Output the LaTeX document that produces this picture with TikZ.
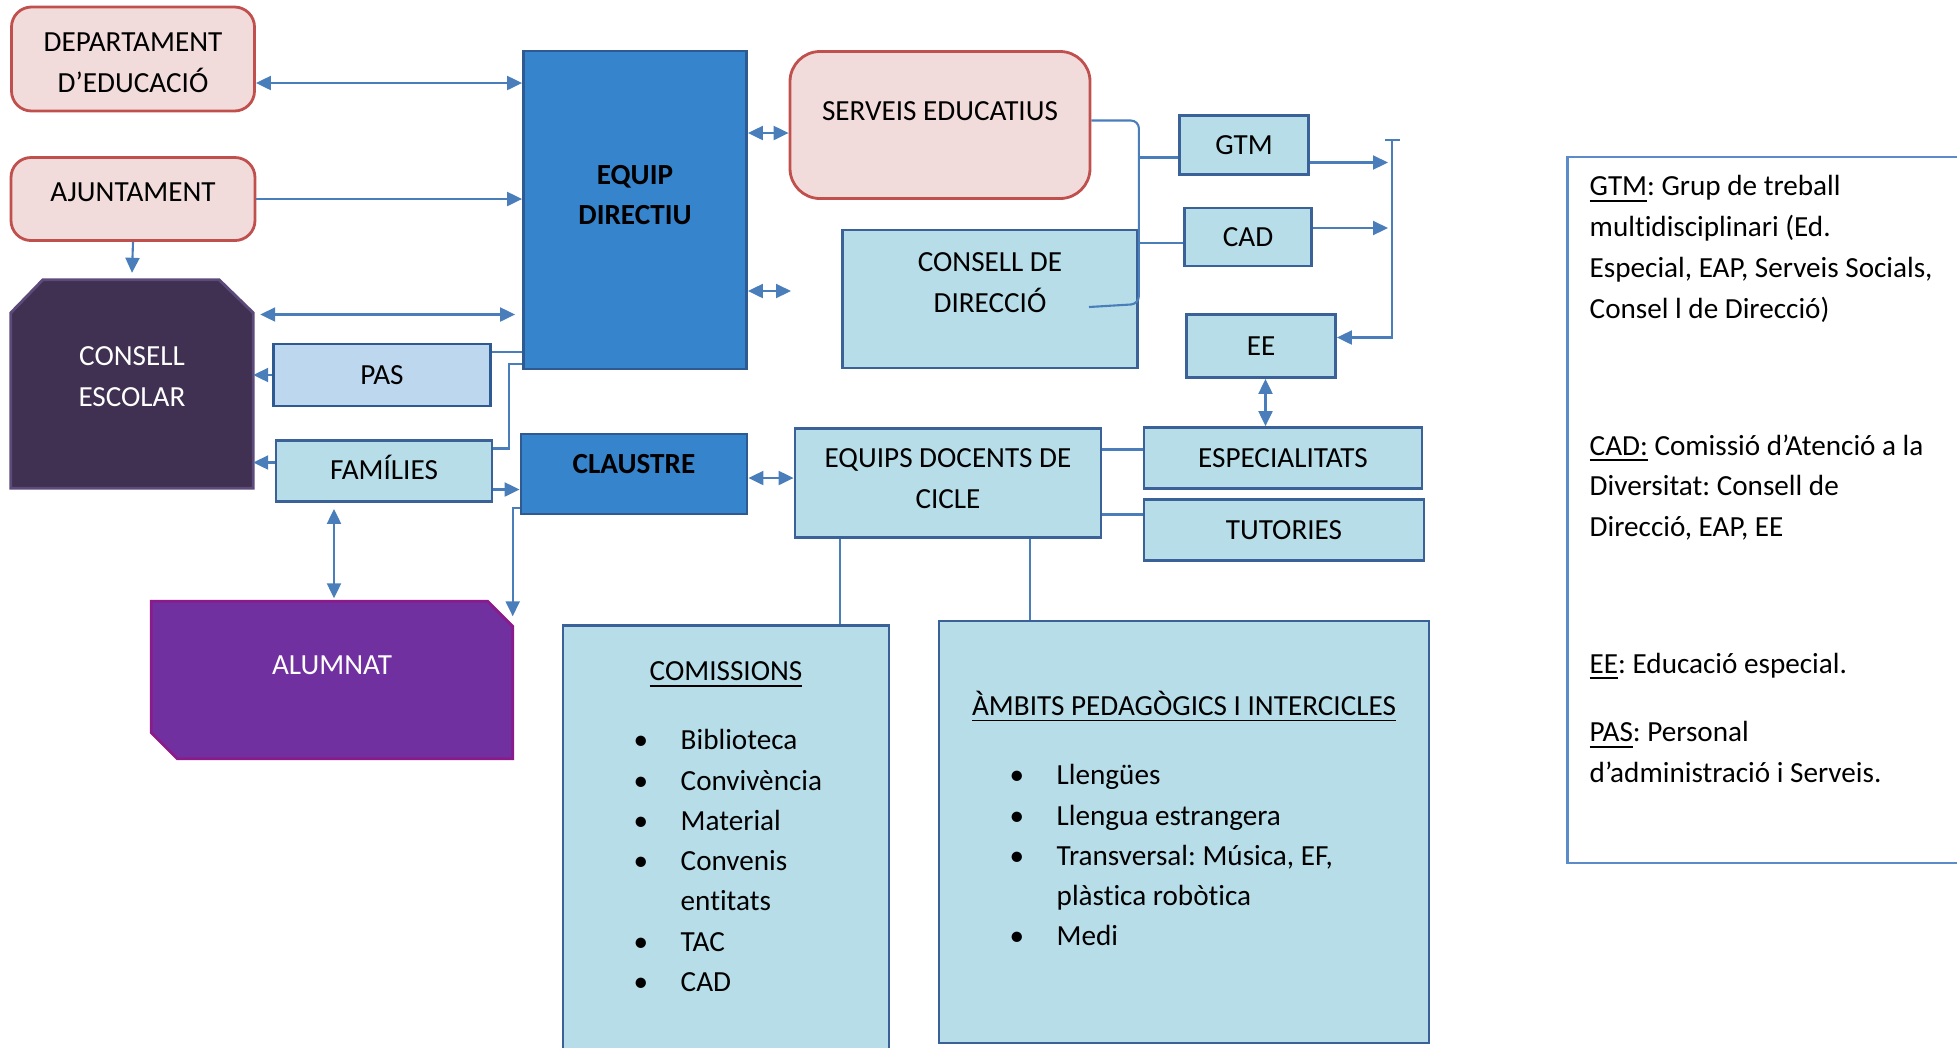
\documentclass[tikz,border=0pt]{standalone}
\usepackage{fontspec}
\setmainfont[Ligatures=NoCommon]{Carlito}
\usepackage{tikz}
\usetikzlibrary{arrows.meta}
\frenchspacing

\definecolor{pinkfill}{HTML}{F2DCDB}
\definecolor{pinkline}{HTML}{C0504D}
\definecolor{dirfill}{HTML}{3584CC}
\definecolor{dirline}{HTML}{2F5A91}
\definecolor{lightfill}{HTML}{B7DDE8}
\definecolor{lightline}{HTML}{3A6298}
\definecolor{pasfill}{HTML}{BDD7EE}
\definecolor{consfill}{HTML}{403152}
\definecolor{consline}{HTML}{5C4A7A}
\definecolor{alumfill}{HTML}{7030A0}
\definecolor{alumline}{HTML}{8B1A8B}
\definecolor{connline}{HTML}{4A7EBB}
\definecolor{legline}{HTML}{5B8BC9}

\newcommand{\boxfont}{\fontsize{8.3}{11.6}\selectfont}
\newcommand{\listfont}{\fontsize{8.3}{11.45}\selectfont}
\newcommand{\bulit}{\makebox[0.47cm][l]{\textbullet}}

\tikzset{
	box/.style={inner sep=0pt, line width=0.8pt, align=center, font=\boxfont},
	pinkbox/.style={box, draw=pinkline, fill=pinkfill, rounded corners=0.2cm},
	dirbox/.style={box, draw=dirline, fill=dirfill},
	lightbox/.style={box, draw=lightline, fill=lightfill},
	pasbox/.style={box, draw=dirline, fill=pasfill},
	holder/.style={inner sep=0pt},
	txt/.style={inner sep=0pt, align=center, font=\boxfont},
	boldtxt/.style={txt, font=\boxfont\bfseries},
	whitetxt/.style={txt, text=white},
	listtxt/.style={inner sep=0pt, align=left, font=\listfont},
	legtxt/.style={inner sep=0pt, align=left, font=\boxfont},
	conn/.style={draw=connline, line width=0.6pt},
	arr/.style={conn, -{Triangle[length=0.15cm, width=0.14cm]}},
	biarr/.style={conn, {Triangle[length=0.15cm, width=0.14cm]}-{Triangle[length=0.15cm, width=0.14cm]}},
}

\begin{document}
\begin{tikzpicture}
		\useasboundingbox (0,0) rectangle (19.57,-10.47);
		\node[pinkbox, minimum width=2.43cm, minimum height=1.04cm] (dept) at (1.33,-0.59) {};
		\node[txt] (depttxt) at ([yshift=-0.035cm]dept.center) {DEPARTAMENT\\D’EDUCACIÓ};
		\node[pinkbox, minimum width=2.44cm, minimum height=0.83cm] (ajunt) at (1.33,-1.99) {};
		\node[txt] (ajunttxt) at ([yshift=0.07cm]ajunt.center) {AJUNTAMENT};
		\node[holder, minimum width=2.41cm, minimum height=2.07cm] (consell) at (1.32,-3.84) {};
		\filldraw[fill=consfill, draw=consline, line width=0.8pt] ([yshift=-0.33cm]consell.north west) -- ([xshift=0.32cm]consell.north west) -- ([xshift=-0.34cm]consell.north east) -- ([yshift=-0.33cm]consell.north east) -- (consell.south east) -- (consell.south west) -- cycle;
		\node[whitetxt] (conselltxt) at ([yshift=0.07cm]consell.center) {CONSELL\\ESCOLAR};
		\node[dirbox, minimum width=2.23cm, minimum height=3.18cm] (equip) at (6.35,-2.10) {};
		\node[boldtxt] (equiptxt) at ([yshift=0.15cm]equip.center) {EQUIP\\DIRECTIU};
		\node[pasbox, minimum width=2.17cm, minimum height=0.62cm] (pas) at (3.82,-3.75) {PAS};
		\node[lightbox, minimum width=2.16cm, minimum height=0.61cm] (fam) at (3.84,-4.71) {};
		\node[txt] (famtxt) at ([yshift=0.035cm]fam.center) {FAMÍLIES};
		\node[dirbox, minimum width=2.26cm, minimum height=0.80cm] (claustre) at (6.34,-4.74) {};
		\node[boldtxt] (claustretxt) at ([yshift=0.10cm]claustre.center) {CLAUSTRE};
		\node[holder, minimum width=3.60cm, minimum height=1.56cm] (alumnat) at (3.32,-6.80) {};
		\filldraw[fill=alumfill, draw=alumline, line width=0.8pt] (alumnat.north west) -- ([xshift=-0.25cm]alumnat.north east) -- ([yshift=-0.25cm]alumnat.north east) -- (alumnat.south east) -- ([xshift=0.26cm]alumnat.south west) -- ([yshift=0.26cm]alumnat.south west) -- cycle;
		\node[whitetxt] (alumnattxt) at ([yshift=0.15cm]alumnat.center) {ALUMNAT};
		\node[pinkbox, rounded corners=0.3cm, minimum width=3.00cm, minimum height=1.47cm] (serveis) at (9.40,-1.25) {};
		\node[txt] (serveistxt) at ([yshift=0.14cm]serveis.center) {SERVEIS EDUCATIUS};
		\node[lightbox, minimum width=2.95cm, minimum height=1.38cm] (consdir) at (9.90,-2.99) {};
		\node[txt] (consdirtxt) at ([yshift=0.16cm]consdir.center) {CONSELL DE\\DIRECCIÓ};
		\node[lightbox, minimum width=1.29cm, minimum height=0.59cm] (gtm) at (12.44,-1.45) {GTM};
		\node[lightbox, minimum width=1.27cm, minimum height=0.58cm] (cad) at (12.48,-2.37) {CAD};
		\node[lightbox, minimum width=1.49cm, minimum height=0.63cm] (ee) at (12.61,-3.46) {EE};
		\node[lightbox, minimum width=2.78cm, minimum height=0.61cm] (esp) at (12.83,-4.58) {ESPECIALITATS};
		\node[lightbox, minimum width=2.80cm, minimum height=0.61cm] (tut) at (12.84,-5.30) {TUTORIES};
		\node[lightbox, minimum width=3.06cm, minimum height=1.09cm] (docents) at (9.48,-4.83) {};
		\node[txt] (docentstxt) at ([yshift=0.04cm]docents.center) {EQUIPS DOCENTS DE\\CICLE};
		\node[lightbox, minimum width=3.26cm, minimum height=4.35cm] (comi) at (7.26,-8.43) {};
		\node[txt] (comititle) at (7.26,-6.75) {\underline{COMISSIONS}};
		\node[listtxt, anchor=north west] (comilist) at (6.33,-7.29) {\bulit Biblioteca\\\bulit Convivència\\\bulit Material\\\bulit Convenis\\\hspace*{0.47cm}entitats\\\bulit TAC\\\bulit CAD};
		\node[lightbox, minimum width=4.90cm, minimum height=4.22cm] (ambits) at (11.84,-8.32) {};
		\node[txt] (ambtitle) at (11.84,-7.07) {\underline{ÀMBITS PEDAGÒGICS I INTERCICLES}};
		\node[listtxt, anchor=north west] (amblist) at (10.09,-7.64) {\bulit Llengües\\\bulit Llengua estrangera\\\bulit Transversal: Música, EF,\\\hspace*{0.47cm}plàstica robòtica\\\bulit Medi};
		\node[draw=legline, line width=0.8pt, inner sep=0pt, minimum width=4.23cm, minimum height=7.06cm] (legend) at (17.79,-5.10) {};
		\node[legtxt, anchor=north west] (legtext) at (15.89,-1.75) {\underline{GTM}: Grup de treball\\multidisciplinari (Ed.\\Especial, EAP, Serveis Socials,\\Consel l de Direcció)\\[27.3pt]\underline{CAD:} Comissió d’Atenció a la\\Diversitat: Consell de\\Direcció, EAP, EE\\[27.3pt]\underline{EE}: Educació especial.\\[7.9pt]\underline{PAS}: Personal\\d’administració i Serveis.};
		\coordinate (dirtip) at (7.91,-2.91);
		\coordinate (bartop) at (13.92,-1.40);
		\draw[biarr] ([yshift=-0.24cm]dept.east) -- ([yshift=-0.24cm]dept.east -| equip.west);
		\draw[arr] (ajunt.east) -- (ajunt.east -| equip.west);
		\draw[arr] (ajunt.south) -- ([yshift=0.07cm]consell.north);
		\draw[biarr, shorten <=0.07cm, shorten >=0.07cm] ([yshift=0.695cm]consell.east) -- ([yshift=0.695cm]consell.east -| equip.west);
		\draw[arr] (pas.west) -- (pas.west -| consell.east);
		\draw[conn] ([yshift=0.23cm]pas.east) -- ([yshift=0.23cm]pas.east -| equip.west);
		\draw[arr] ([yshift=0.085cm]fam.west) -- ([yshift=0.085cm]fam.west -| consell.east);
		\draw[conn] ([yshift=0.225cm]fam.east) -- ++(0.16,0) |- ([yshift=-1.54cm]equip.west);
		\draw[arr] ([yshift=-0.185cm]fam.east) -- ([yshift=-0.185cm]fam.east -| claustre.west);
		\draw[biarr, shorten <=0.06cm, shorten >=0.03cm] ([xshift=-0.5cm]fam.south) -- ([xshift=-0.5cm]fam.south |- alumnat.north);
		\draw[arr] ([yshift=-0.34cm]claustre.west) -| ([yshift=-0.15cm]alumnat.north east);
		\draw[biarr] ([yshift=0.77cm]equip.east) -- ([yshift=0.77cm]equip.east -| serveis.west);
		\draw[biarr] (dirtip -| equip.east) -- (dirtip);
		\draw[biarr] ([yshift=-0.04cm]claustre.east) -- ([yshift=-0.04cm]claustre.east -| docents.west);
		\draw[conn, rounded corners=0.08cm] ([yshift=0.045cm]serveis.east) -| ([yshift=-0.05cm]consdir.east) -- ([xshift=0.99cm,yshift=-0.08cm]consdir.center);
		\draw[conn] ([yshift=-0.125cm]gtm.west) -- ([yshift=-0.125cm]gtm.west -| consdir.east);
		\draw[conn] ([yshift=-0.06cm]cad.west) -- ([yshift=-0.06cm]cad.west -| consdir.east);
		\draw[conn] ([xshift=-0.07cm]bartop) -- ([xshift=0.08cm]bartop);
		\draw[arr] (bartop) |- ([yshift=0.085cm]ee.east);
		\draw[arr, shorten >=0.04cm] ([yshift=-0.175cm]gtm.east) -- ([yshift=-0.175cm]gtm.east -| bartop);
		\draw[arr, shorten >=0.04cm] ([yshift=0.09cm]cad.east) -- ([yshift=0.09cm]cad.east -| bartop);
		\draw[biarr] ([xshift=0.045cm]ee.south) -- ([xshift=0.045cm]ee.south |- esp.north);
		\draw[conn] ([yshift=0.085cm]esp.west) -- ([yshift=0.085cm]esp.west -| docents.east);
		\draw[conn] ([yshift=0.155cm]tut.west) -- ([yshift=0.155cm]tut.west -| docents.east);
		\draw[conn] ([xshift=-1.08cm]docents.south) -- ([xshift=-1.08cm]docents.south |- comi.north);
		\draw[conn] ([xshift=0.82cm]docents.south) -- ([xshift=0.82cm]docents.south |- ambits.north);
	\end{tikzpicture}
\end{document}
